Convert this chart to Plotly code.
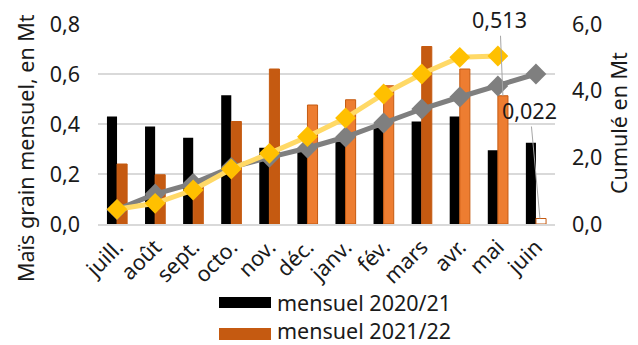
import plotly.graph_objects as go

months = ["juill.", "août", "sept.", "octo.", "nov.", "déc.", "janv.", "fév.", "mars", "avr.", "mai", "juin"]
monthly_2020_21 = [0.43, 0.39, 0.345, 0.515, 0.305, 0.29, 0.33, 0.385, 0.41, 0.43, 0.295, 0.325]
monthly_2021_22 = [0.24, 0.197, 0.178, 0.41, 0.62, 0.476, 0.497, 0.553, 0.71, 0.62, 0.513, 0.022]
cumul_2020_21 = [0.43, 0.90, 1.22, 1.70, 2.00, 2.28, 2.61, 3.03, 3.45, 3.81, 4.14, 4.50]
cumul_2021_22 = [0.44, 0.62, 1.02, 1.65, 2.12, 2.62, 3.18, 3.90, 4.50, 5.00, 5.04]

DARK = "#C55A11"
LIGHT = "#ED7D31"
fill_2122 = [DARK, DARK, DARK, DARK, DARK, LIGHT, LIGHT, LIGHT, DARK, LIGHT, LIGHT, "#FFFFFF"]

FONT = "Noto Sans"
FS = 21.5
TXT = "#1a1a1a"
W, H = 638, 345
L, R, T, B = 98, 83, 24, 121
PW, PH = W - L - R, H - T - B


def px(x):
    return (x - L) / PW


def py(y):
    return (T + PH - y) / PH


fig = go.Figure()
fig.add_trace(go.Bar(x=months, y=monthly_2020_21, name="mensuel 2020/21",
                     marker=dict(color="#000000", line=dict(width=0)), showlegend=False))
fig.add_trace(go.Bar(x=months, y=monthly_2021_22, name="mensuel 2021/22",
                     marker=dict(color=fill_2122, line=dict(color=DARK, width=1)), showlegend=False))
fig.add_trace(go.Scatter(x=months, y=cumul_2020_21, name="cumulé 2020/21", yaxis="y2",
                         mode="lines+markers", line=dict(color="#7F7F7F", width=5),
                         marker=dict(symbol="diamond", size=16, color="#7F7F7F"), showlegend=False))
fig.add_trace(go.Scatter(x=months[:len(cumul_2021_22)], y=cumul_2021_22, name="cumulé 2021/22", yaxis="y2",
                         mode="lines+markers", line=dict(color="#FFD966", width=5),
                         marker=dict(symbol="diamond", size=16, color="#FFC000"), showlegend=False))

font = dict(size=FS, color=TXT, family=FONT)
annotations = [
    dict(x="mai", y=monthly_2021_22[10], xshift=5, text="0,513", showarrow=True, arrowhead=0,
         arrowwidth=1, arrowcolor="#A6A6A6", ax=-3, ay=-76, font=font),
    dict(x="juin", y=monthly_2021_22[11], xshift=4, text="0,022", showarrow=True, arrowhead=0,
         arrowwidth=1, arrowcolor="#A6A6A6", ax=-10, ay=-108, font=font),
    dict(xref="paper", yref="paper", x=px(25), y=py(148), text="Maïs grain mensuel, en Mt", textangle=-90,
         showarrow=False, font=font, xanchor="center", yanchor="middle"),
    dict(xref="paper", yref="paper", x=px(618), y=py(123), text="Cumulé en Mt", textangle=-90,
         showarrow=False, font=font, xanchor="center", yanchor="middle"),
    dict(xref="paper", yref="paper", x=px(275), y=py(302), text="mensuel 2020/21", showarrow=False,
         xanchor="left", yanchor="middle", font=font),
    dict(xref="paper", yref="paper", x=px(275), y=py(330), text="mensuel 2021/22", showarrow=False,
         xanchor="left", yanchor="middle", font=font),
]
shapes = [
    dict(type="rect", xref="paper", yref="paper", x0=px(219), x1=px(271), y0=py(297), y1=py(308),
         fillcolor="#000000", line=dict(width=0)),
    dict(type="rect", xref="paper", yref="paper", x0=px(219), x1=px(271), y0=py(328), y1=py(340),
         fillcolor=DARK, line=dict(width=0)),
]

fig.update_layout(
    width=W, height=H, margin=dict(l=L, r=R, t=T, b=B, pad=0),
    paper_bgcolor="white", plot_bgcolor="white",
    barmode="group", bargap=0.47, bargroupgap=0,
    separators=", ",
    font=font,
    xaxis=dict(range=[-0.5, len(months) - 0.5], tickangle=-45, showgrid=False, showline=True,
               linecolor="#D9D9D9", linewidth=2, ticks="", tickfont=font, automargin=False),
    yaxis=dict(range=[0, 0.8], dtick=0.2, tickformat=".1f", showgrid=True, gridcolor="#D9D9D9",
               gridwidth=2, zeroline=False, showline=False, ticks="", tickfont=font, automargin=False,
               ticklabelstandoff=17),
    yaxis2=dict(range=[0, 6], dtick=2, tickformat=".1f", overlaying="y", side="right", showgrid=False,
                zeroline=False, showline=False, ticks="", tickfont=font, automargin=False,
                ticklabelstandoff=16),
    annotations=annotations, shapes=shapes, showlegend=False,
)

fig.write_html("out.html", config={"displayModeBar": False},
               post_script="document.body.style.margin='0';document.body.style.overflow='hidden';")
